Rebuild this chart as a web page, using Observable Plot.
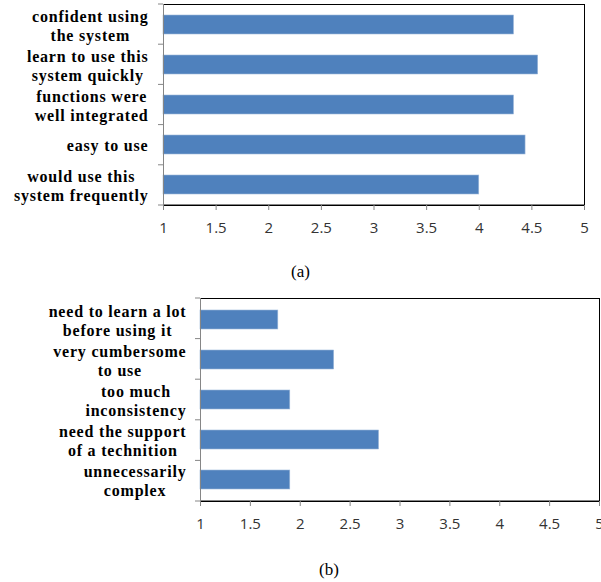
<!DOCTYPE html>
<html><head><meta charset="utf-8">
<script src="https://cdn.jsdelivr.net/npm/d3@7"></script>
<script src="https://cdn.jsdelivr.net/npm/@observablehq/plot@0.6"></script>
<style>
body{margin:0;background:#fff;width:601px;height:582px;overflow:hidden;}
.cap{font-family:"Liberation Serif",serif;font-size:17px;color:#000;text-align:center;width:601px;box-sizing:border-box;}
svg{display:block;}
</style></head><body>
<div id="a"></div><div class="cap" id="capA" style="height:44px;line-height:44px;">(a)</div>
<div id="b"></div><div class="cap" id="capB" style="height:52px;line-height:52px;padding-left:57px;">(b)</div>
<script>
const positiveItems = ["confident using\nthe system", "learn to use this\nsystem quickly", "functions were\nwell integrated", "easy to use", "would use this\nsystem frequently"];
const positiveScores = [4.33, 4.56, 4.33, 4.44, 4.0];
const negativeItems = ["need to learn a lot\nbefore using it", "very cumbersome\nto use", "too much\ninconsistency", "need the support\nof a technition", "unnecessarily\ncomplex"];
const negativeScores = [1.78, 2.34, 1.90, 2.79, 1.90];
const xTicks = [1, 1.5, 2, 2.5, 3, 3.5, 4, 4.5, 5];
const xTickLabels = ["1", "1.5", "2", "2.5", "3", "3.5", "4", "4.5", "5"];
const captions = ["(a)", "(b)"];

function makeChart(items, scores, o) {
  const data = items.map((item, i) => ({item, score: scores[i]}));
  const chart = Plot.plot({
    width: 601, height: o.height,
    marginLeft: o.ml, marginRight: o.mr, marginTop: o.mt, marginBottom: o.mb,
    style: {background: "white", overflow: "visible"},
    x: {domain: [1, 5]},
    y: {domain: items, paddingInner: 0.53, paddingOuter: 0.265},
    marks: [
      Plot.barX(data, {x1: 1, x2: "score", y: "item", fill: "#4f81bd", stroke: "#9db8da", strokeWidth: 0.6}),
      Plot.frame({stroke: "#000", strokeWidth: 1}),
      Plot.axisX({ticks: xTicks, tickFormat: d => xTickLabels[xTicks.indexOf(d)], tickSize: 5, tickPadding: 12,
        fontSize: 15, fontFamily: "Open Sans, Liberation Sans, sans-serif", stroke: "#868686", fill: "#333", label: null}),
      Plot.axisY({tickSize: 0, tickPadding: o.gap, fontFamily: "Liberation Serif, serif", fontWeight: "bold",
        fontSize: 16, lineHeight: 1.22, fill: "#000", label: null})
    ]
  });
  return chart;
}

function decorate(chart) {
  const svg = d3.select(chart.tagName === "svg" ? chart : chart.querySelector("svg"));
  const lab = svg.selectAll('g[aria-label="y-axis tick label"]');
  lab.attr("letter-spacing", "0.8px");
  // center lines within right-aligned label blocks
  lab.selectAll("text").each(function() {
    const spans = d3.select(this).selectAll("tspan");
    if (spans.empty()) return;
    let w = 0;
    spans.each(function() { w = Math.max(w, this.getComputedTextLength()); });
    d3.select(this).attr("text-anchor", "middle");
    spans.attr("x", -w / 2);
  });
  const ys = chart.scale("y"), xs = chart.scale("x");
  const [r0, r1] = ys.range;
  const n = ys.domain.length;
  const x0 = xs.apply(1), x1 = xs.apply(5);
  const top = Math.min(r0, r1), bot = Math.max(r0, r1);
  const g = svg.append("g").attr("stroke", "#868686").attr("stroke-width", 1);
  g.append("line").attr("x1", x0 + 0.5).attr("x2", x0 + 0.5).attr("y1", top).attr("y2", bot);
  g.append("line").attr("x1", x0).attr("x2", x1).attr("y1", bot - 0.5).attr("y2", bot - 0.5);
  for (let k = 0; k <= n; k++) {
    const y = top + k * (bot - top) / n;
    g.append("line").attr("x1", x0 - 5).attr("x2", x0).attr("y1", y).attr("y2", y);
  }
}

const ca = makeChart(positiveItems, positiveScores, {height: 250, ml: 163, mr: 17, mt: 4, mb: 45, gap: 15});
document.getElementById("a").append(ca);
decorate(ca);
const cb = makeChart(negativeItems, negativeScores, {height: 250, ml: 200, mr: 2, mt: 4, mb: 43, gap: 14});
document.getElementById("b").append(cb);
decorate(cb);
document.getElementById("capA").textContent = captions[0];
document.getElementById("capB").textContent = captions[1];
</script>
</body></html>
